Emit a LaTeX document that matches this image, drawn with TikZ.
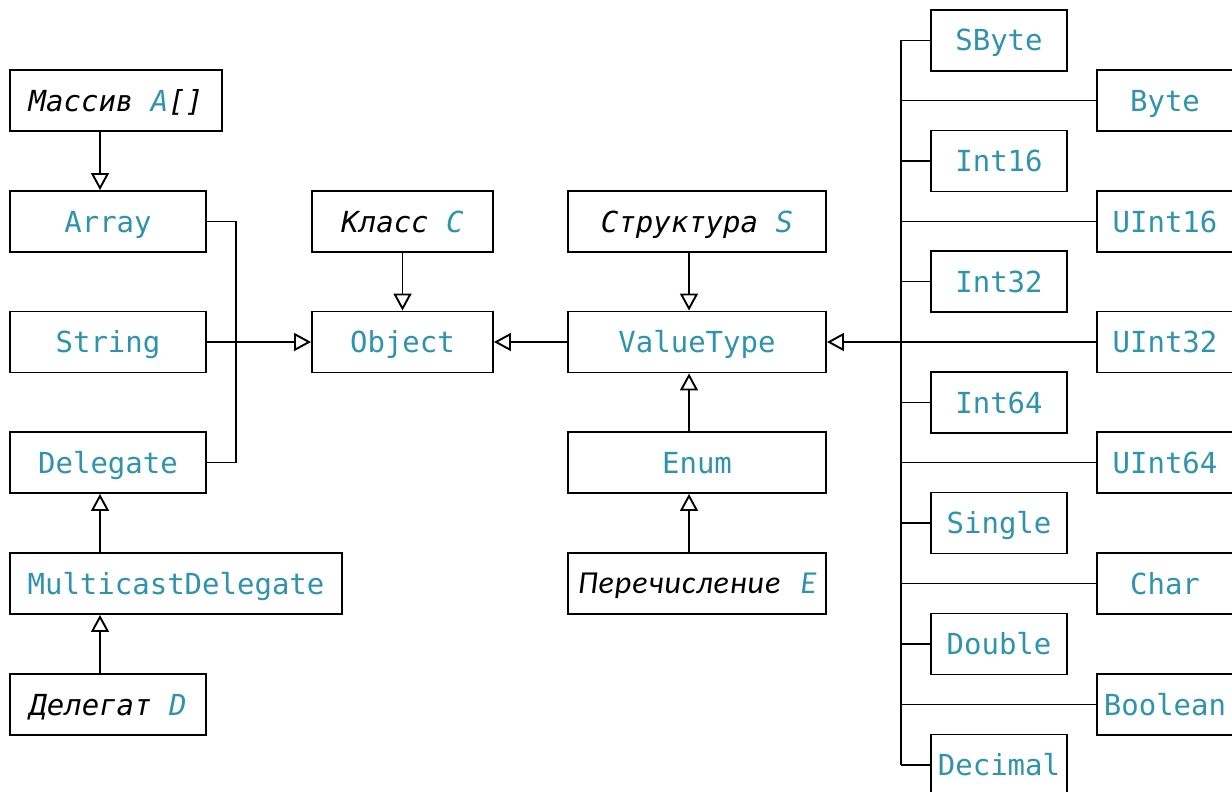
\documentclass[tikz,border=0pt]{standalone}
\usepackage{fontspec}
\newfontfamily\mono{DejaVu Sans Mono}
\newfontfamily\monoit{DejaVu Sans Mono Oblique}
\newfontfamily\calit{Carlito Italic}[LetterSpace=3]
\usetikzlibrary{arrows.meta}
\definecolor{tl}{RGB}{46,148,174}
\tikzset{
  box/.style={draw=black, line width=1.9pt, minimum height=61pt, inner sep=0pt, text height=21pt, text depth=0pt, text=tl, font=\mono\fontsize{29}{34}\selectfont},
  itbox/.style={box, text=black, font=\monoit\fontsize{29}{34}\selectfont},
  tbox/.style={box, minimum width=136pt},
  conn/.style={line width=1.9pt},
  inh/.style={conn, -{Triangle[open, width=18pt, length=17pt, line width=1.9pt]}}
}
\begin{document}
\begin{tikzpicture}[x=1pt,y=-1pt]
\useasboundingbox (0,0) rectangle (1232,792);
% left column
\node[itbox, minimum width=212pt] (mas) at (116,100.5) {Массив \textcolor{tl}{A}[]};
\node[box, minimum width=196pt] (arr) at (108,221.5) {Array};
\node[box, minimum width=196pt] (str) at (108,342) {String};
\node[box, minimum width=196pt] (del) at (108,462.5) {Delegate};
\node[box, minimum width=332pt] (mcd) at (176,583.5) {MulticastDelegate};
\node[itbox, minimum width=196pt] (dlg) at (108,704.5) {Делегат \textcolor{tl}{D}};
% middle
\node[itbox, minimum width=181pt] (cls) at (402.5,221.5) {Класс \textcolor{tl}{C}};
\node[box, minimum width=181pt] (obj) at (402.5,342) {Object};
\node[itbox, minimum width=258pt] (sts) at (697,221.5) {Структура \textcolor{tl}{S}};
\node[box, minimum width=258pt] (vt) at (697,342) {ValueType};
\node[box, minimum width=258pt] (enm) at (697,462.5) {Enum};
\node[box, minimum width=258pt, font=\calit\fontsize{32}{36}\selectfont, text=black, text height=20.5pt] (per) at (697,583.5) {Перечисление\hspace{12pt} \textcolor{tl}{E}};
% right types
\node[tbox] (sbyte) at (999,40.5) {SByte};
\node[tbox] (byte) at (1165,100.5) {Byte};
\node[tbox] (i16) at (999,161) {Int16};
\node[tbox] (u16) at (1165,221.5) {UInt16};
\node[tbox] (i32) at (999,281.5) {Int32};
\node[tbox] (u32) at (1165,342) {UInt32};
\node[tbox] (i64) at (999,402.5) {Int64};
\node[tbox] (u64) at (1165,462.5) {UInt64};
\node[tbox] (sgl) at (999,523) {Single};
\node[tbox] (chr) at (1165,583.5) {Char};
\node[tbox] (dbl) at (999,644) {Double};
\node[tbox] (bool) at (1165,704.5) {Boolean};
\node[tbox] (dec) at (999,765) {Decimal};
% helper coordinates
\coordinate (lc) at (100,0);
\coordinate (jn) at (236,342);
\coordinate (vc) at (689,0);
\coordinate (bus) at (901,0);
% left connectors
\draw[inh] (mas.south -| lc) -- (arr.north -| lc);
\draw[inh] (mcd.north -| lc) -- (del.south -| lc);
\draw[inh] (dlg.north -| lc) -- (mcd.south -| lc);
\draw[conn] (arr.east) -| (jn);
\draw[conn] (del.east) -| (jn);
\draw[inh] (str.east) -- (obj.west);
% middle connectors
\draw[inh] (cls.south) -- (obj.north);
\draw[inh] (vt.west) -- (obj.east);
\draw[inh] (sts.south -| vc) -- (vt.north -| vc);
\draw[inh] (enm.north -| vc) -- (vt.south -| vc);
\draw[inh] (per.north -| vc) -- (enm.south -| vc);
% bus
\draw[conn] (sbyte.west -| bus) -- (dec.west -| bus);
\foreach \n in {sbyte,byte,i16,u16,i32,i64,u64,sgl,chr,dbl,bool,dec}
  \draw[conn] (\n.west) -- (\n.west -| bus);
\draw[inh] (u32.west) -- (vt.east);
\end{tikzpicture}
\end{document}
